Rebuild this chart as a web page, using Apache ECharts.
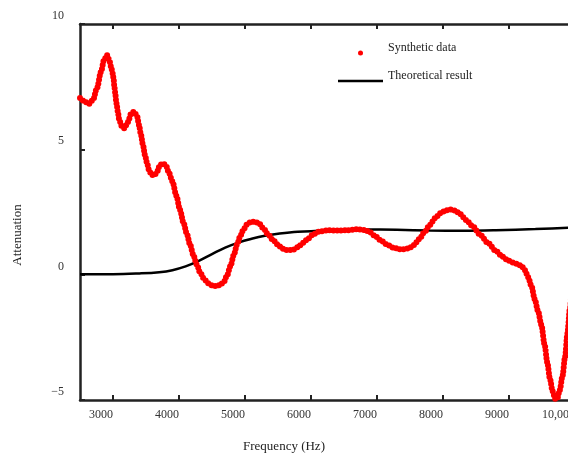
<!DOCTYPE html>
<html>
<head>
<meta charset="utf-8">
<script src="https://cdn.jsdelivr.net/npm/echarts@6/dist/echarts.min.js"></script>
<style>
html,body{margin:0;padding:0;background:#fff;}
#chart{width:568px;height:455px;}
</style>
</head>
<body>
<div id="chart"></div>
<script>
//合成数据（红点），频率Hz
const synFreq = [2500,2560,2635,2697,2758,2818,2864,2909,2944,2970,2995,3011,3020,3035,3045,3061,3076,3095,3132,3171,3227,3273,3318,3364,3394,3424,3454,3485,3515,3545,3583,3626,3667,3712,3762,3800,3850,3900,3960,4015,4070,4116,4170,4215,4270,4320,4380,4440,4500,4560,4620,4680,4730,4780,4830,4880,4930,4980,5030,5090,5150,5210,5280,5350,5430,5520,5600,5660,5730,5800,5880,5960,6040,6120,6250,6400,6550,6700,6820,6900,6980,7060,7150,7250,7330,7400,7480,7560,7640,7720,7800,7880,7960,8040,8110,8180,8260,8350,8450,8560,8680,8800,8900,8990,9060,9130,9190,9240,9290,9340,9390,9440,9490,9540,9580,9620,9660,9700,9730,9770,9810,9850,9885,9920,9960,10000];
const synVal = [7.05,6.93,6.81,6.97,7.45,8.09,8.56,8.76,8.56,8.3,8.03,7.77,7.5,7.24,6.97,6.7,6.44,6.17,5.93,5.84,6.09,6.41,6.5,6.33,5.97,5.57,5.17,4.77,4.46,4.18,3.98,3.96,4.1,4.38,4.44,4.36,4.05,3.72,3.15,2.58,2.05,1.65,1.18,0.8,0.4,0.08,-0.17,-0.34,-0.43,-0.46,-0.42,-0.28,-0.02,0.35,0.78,1.2,1.55,1.82,2.0,2.1,2.12,2.05,1.85,1.6,1.36,1.13,1.0,0.97,1.0,1.1,1.27,1.45,1.62,1.72,1.77,1.76,1.77,1.81,1.78,1.68,1.52,1.36,1.2,1.08,1.02,1.01,1.05,1.18,1.42,1.7,1.98,2.25,2.45,2.56,2.6,2.56,2.42,2.18,1.93,1.6,1.27,0.95,0.72,0.56,0.48,0.43,0.34,0.18,-0.1,-0.45,-0.98,-1.45,-2.0,-2.8,-3.5,-4.15,-4.65,-4.95,-4.95,-4.6,-4.05,-3.27,-2.35,-1.4,-0.5,0.3];

//理论结果（黑线）
const theoFreq = [2500,3000,3400,3700,3900,4100,4300,4500,4700,4900,5100,5300,5500,5800,6300,6800,7300,7800,8300,8800,9400,9900,10500];
const theoVal = [0.02,0.02,0.05,0.1,0.18,0.33,0.55,0.82,1.08,1.28,1.43,1.55,1.63,1.71,1.77,1.8,1.79,1.76,1.75,1.77,1.82,1.87,1.92];

const xTicks = [3000,4000,5000,6000,7000,8000,9000,10000];

const font = 'Liberation Serif';
const axisColor = '#222';

function zip(a,b){ return a.map((v,i)=>[v,b[i]]); }

const xAxisBase = {
	type: 'value',
	min: 2500,
	max: 10500,
	splitLine: {show:false},
	axisLine: {show:true, onZero:false, lineStyle:{color:axisColor, width:2.5}},
	axisTick: {show:true, inside:true, length:5, customValues:xTicks, lineStyle:{color:axisColor, width:2}}
};

//图例文字略高于图标
const legendText = {
	fontFamily: font, fontSize: 12, color: '#222',
	rich: {t: {fontFamily:font, fontSize:12, color:'#222', padding:[0,0,10,0]}}
};

const option = {
	animation: false,
	backgroundColor: '#fff',
	textStyle: {fontFamily: font},
	grid: {left:80, top:24, bottom:55, right:-40, outerBoundsMode:'none'},
	xAxis: [
		Object.assign({}, xAxisBase, {
			position: 'bottom',
			axisLabel: {
				customValues: xTicks, align:'right', margin:9,
				color:'#333', fontSize:12, fontFamily:font,
				formatter: v => v >= 10000 ? v.toLocaleString('en-US') : String(v)
			}
		}),
		Object.assign({}, xAxisBase, {
			position: 'top',
			axisLabel: {show:false}
		})
	],
	yAxis: {
		type: 'value',
		min: -5,
		max: 10,
		interval: 5,
		splitLine: {show:false},
		axisLine: {show:true, onZero:false, lineStyle:{color:axisColor, width:2.5}},
		axisTick: {show:true, inside:true, length:5, lineStyle:{color:axisColor, width:2}},
		axisLabel: {
			margin: 16, color:'#333', fontSize:12, fontFamily:font,
			verticalAlign: 'bottom', lineHeight: 16,
			formatter: v => String(v).replace('-', '\u2212')
		}
	},
	legend: [
		{
			data: [{name:'Synthetic data', icon:'circle'}],
			left: 358, top: 42, padding: 0,
			itemWidth: 45, itemHeight: 5,
			itemStyle: {color:'red', borderWidth:0},
			formatter: name => '{t|' + name + '}',
			textStyle: legendText
		},
		{
			data: [{name:'Theoretical result', icon:'rect'}],
			left: 338, top: 70, padding: 0,
			itemWidth: 45, itemHeight: 2.5,
			itemStyle: {color:'#000', borderWidth:0},
			formatter: name => '{t|' + name + '}',
			textStyle: legendText
		}
	],
	graphic: [
		{type:'text', x:284, y:447, style:{text:'Frequency (Hz)', font:'13px "Liberation Serif"', fill:'#222', align:'center', verticalAlign:'middle'}},
		{type:'text', x:18, y:235, rotation:Math.PI/2, style:{text:'Attenuation', font:'13px "Liberation Serif"', fill:'#222', align:'center', verticalAlign:'middle'}}
	],
	series: [
		{
			name: 'Theoretical result',
			type: 'line',
			data: zip(theoFreq, theoVal),
			smooth: 0.4,
			showSymbol: false,
			color: '#000',
			lineStyle: {color:'#000', width:2.5}
		},
		{
			name: 'Synthetic data',
			type: 'line',
			data: zip(synFreq, synVal),
			smooth: 0.3,
			smoothMonotone: 'x',
			showSymbol: false,
			color: 'red',
			z: 3,
			lineStyle: {color:'red', width:6, type:[0,3.8], cap:'round'}
		}
	]
};

const myChart = echarts.init(document.getElementById('chart'));
myChart.setOption(option);
window.addEventListener('resize', function(){
	myChart.resize();
});
</script>
</body>
</html>
